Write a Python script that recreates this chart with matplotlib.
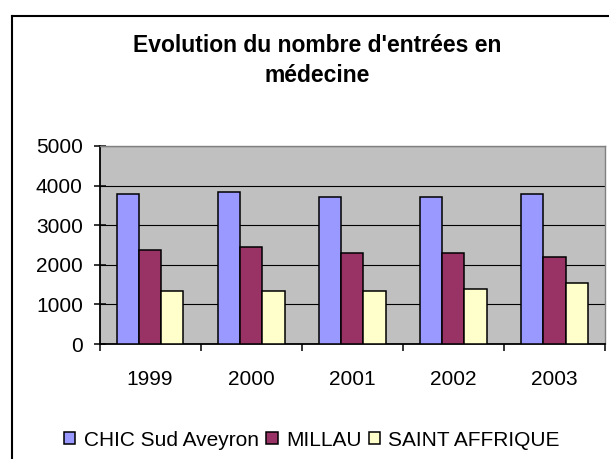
import numpy as np
import matplotlib
matplotlib.use("Agg")
import matplotlib.pyplot as plt
from matplotlib.lines import Line2D
from matplotlib.patches import Patch

plt.rcParams['font.family'] = ['Liberation Sans', 'DejaVu Sans']

years = ['1999', '2000', '2001', '2002', '2003']
series_names = ['CHIC Sud Aveyron', 'MILLAU', 'SAINT AFFRIQUE']
chic = [3780, 3830, 3720, 3720, 3780]
millau = [2370, 2460, 2310, 2310, 2200]
saint_affrique = [1350, 1350, 1350, 1400, 1550]
colors = ['#9999FF', '#993366', '#FFFFCC']
yticks = [0, 1000, 2000, 3000, 4000, 5000]

W, H = 609, 459
fig = plt.figure(figsize=(W / 100, H / 100), dpi=100)
fig.patch.set_facecolor('white')

# chart area frame (left and top edges visible)
px = lambda x: x / W
py = lambda y: 1 - y / H
fig.add_artist(Line2D([px(11.5), px(11.5)], [py(16), py(470)], color='black',
                      lw=1.5, transform=fig.transFigure, solid_capstyle='projecting'))
fig.add_artist(Line2D([px(11.5), px(620)], [py(16), py(16)], color='black',
                      lw=1.5, transform=fig.transFigure, solid_capstyle='projecting'))

ax = fig.add_axes([px(99.5), py(344), (605 - 99.5) / W, (344 - 146) / H])
ax.set_facecolor('#C0C0C0')

x = np.arange(len(years))
bw = 0.22
for i, (vals, c) in enumerate(zip([chic, millau, saint_affrique], colors)):
    ax.bar(x + (i - 1) * bw, vals, width=bw, color=c, edgecolor='black',
           linewidth=1.1, zorder=3)

ax.set_ylim(0, 5000)
ax.set_xlim(-0.5, len(years) - 0.5)
ax.set_yticks(yticks)
ax.set_yticklabels([str(v) for v in yticks])
ax.yaxis.grid(True, color='black', linewidth=0.8, zorder=1)
ax.set_axisbelow(True)

# category separators as major ticks, year labels on minor ticks
ax.set_xticks(np.arange(len(years) + 1) - 0.5)
ax.set_xticklabels([])
ax.set_xticks(x, minor=True)
ax.set_xticklabels(years, minor=True)
ax.tick_params(axis='x', which='major', direction='out', length=5, width=1.1, color='black')
ax.tick_params(axis='x', which='minor', length=0, pad=19, labelsize=15)
ax.tick_params(axis='y', direction='inout', length=8, width=1.1, pad=8, labelsize=15)

for side in ['left', 'bottom']:
    ax.spines[side].set_color('black')
    ax.spines[side].set_linewidth(1.3)
for side in ['top', 'right']:
    ax.spines[side].set_color('#808080')
    ax.spines[side].set_linewidth(1.0)

fig.text(px(317), py(46), "Evolution du nombre d'entrées en", ha='center', va='center',
         fontsize=16.5, fontweight='bold')
fig.text(px(317), py(76), "médecine", ha='center', va='center',
         fontsize=16.5, fontweight='bold')

handles = [Patch(facecolor=c, edgecolor='black', linewidth=1.1) for c in colors]
fig.legend(handles, series_names, loc='center', bbox_to_anchor=(px(312), py(440)),
           ncol=3, frameon=False, fontsize=15, handlelength=0.55, handleheight=0.55,
           handletextpad=0.4, columnspacing=0.35, borderpad=0)

fig.savefig('out.png', dpi=100)
